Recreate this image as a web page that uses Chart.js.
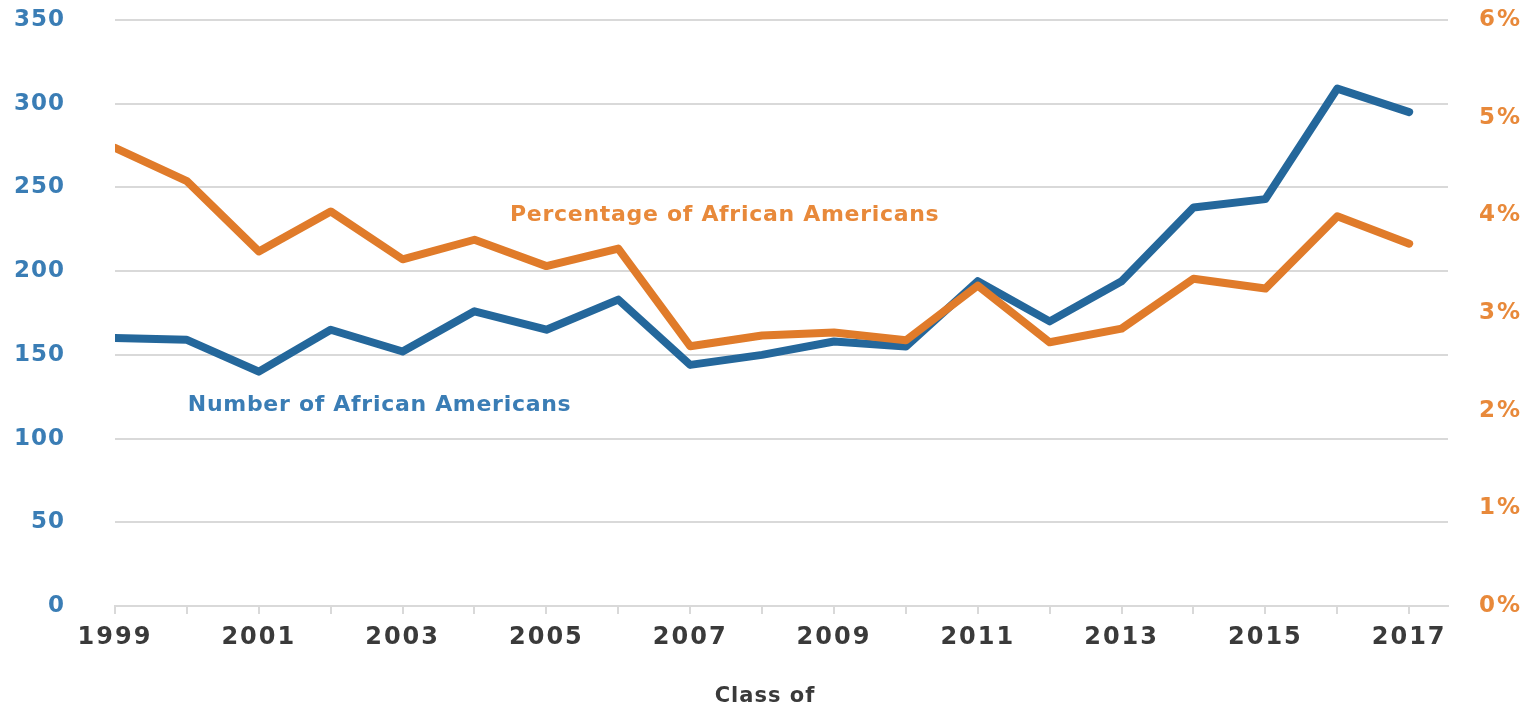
<!DOCTYPE html>
<html><head><meta charset="utf-8">
<script src="https://cdn.jsdelivr.net/npm/chart.js@4/dist/chart.umd.min.js"></script>
<style>html,body{margin:0;padding:0;background:#fff;}#wrap{width:1539px;height:710px;}</style>
</head><body><div id="wrap"><canvas id="c" width="1539" height="710"></canvas></div>
<script>
const years = [1999,2000,2001,2002,2003,2004,2005,2006,2007,2008,2009,2010,2011,2012,2013,2014,2015,2016,2017];
const numberAA = [160,159,140,165,152,176,165,183,144,150,158,155,194,170,194,238,243,309,295];
const percentAA = [4.69,4.35,3.63,4.04,3.55,3.75,3.48,3.66,2.66,2.77,2.80,2.72,3.28,2.70,2.84,3.35,3.25,3.99,3.71];
const leftTicks = [0,50,100,150,200,250,300,350];
const rightTicks = [0,1,2,3,4,5,6];
const labelNumber = 'Number of African Americans';
const labelPercent = 'Percentage of African Americans';
const xTitle = 'Class of';

const BLUE_LINE = '#24679b', BLUE_TXT = '#3a7db5';
const ORANGE_LINE = '#e07b2a', ORANGE_TXT = '#e8893a';
const TITLE_TXT = '#3a3a3a';
const FONT = 'DejaVu Sans';

// letter spacing per scale (wraps the label drawing of each axis)
const spacingPlugin = {
  id: 'spacing',
  beforeDraw(chart) {
    const spacing = { x: '2px', y: '1px', y1: '2px' };
    Object.keys(spacing).forEach(id => {
      const s = chart.scales[id];
      if (!s || s._spWrapped) return;
      const orig = s.drawLabels.bind(s);
      s.drawLabels = function(area) {
        const ctx = chart.ctx;
        ctx.save(); ctx.letterSpacing = spacing[id]; orig(area); ctx.restore();
      };
      s._spWrapped = true;
    });
  }
};

const labelsPlugin = {
  id: 'seriesLabels',
  afterDatasetsDraw(chart) {
    const {ctx, scales} = chart;
    ctx.save();
    ctx.textAlign = 'center';
    ctx.textBaseline = 'middle';
    ctx.letterSpacing = '0.7px';
    ctx.font = 'bold 22px "' + FONT + '"';
    ctx.fillStyle = ORANGE_TXT;
    ctx.fillText(labelPercent, scales.x.getPixelForValue(2007.48), scales.y.getPixelForValue(233.6));
    ctx.fillStyle = BLUE_TXT;
    ctx.fillText(labelNumber, scales.x.getPixelForValue(2002.68), scales.y.getPixelForValue(120));
    // axis title "Class of"
    ctx.letterSpacing = '1px';
    ctx.font = 'bold 21px "' + FONT + '"';
    ctx.fillStyle = TITLE_TXT;
    ctx.fillText(xTitle, scales.x.getPixelForValue(2008.04), scales.x.bottom - 13);
    ctx.restore();
  }
};

new Chart(document.getElementById('c'), {
  type: 'line',
  data: {
    datasets: [
      { label: labelPercent, data: years.map((y,i)=>({x:y,y:percentAA[i]})), yAxisID: 'y1',
        borderColor: ORANGE_LINE, borderWidth: 8, pointRadius: 0, tension: 0,
        borderCapStyle: 'round', borderJoinStyle: 'round' },
      { label: labelNumber, data: years.map((y,i)=>({x:y,y:numberAA[i]})), yAxisID: 'y',
        borderColor: BLUE_LINE, borderWidth: 8, pointRadius: 0, tension: 0,
        borderCapStyle: 'round', borderJoinStyle: 'round' }
    ]
  },
  options: {
    responsive: false, animation: false,
    layout: { padding: { top: 20, left: 0, right: 0, bottom: 0 } },
    plugins: { legend: { display: false }, tooltip: { enabled: false } },
    scales: {
      x: {
        type: 'linear', min: 1999, max: 2017.54,
        afterBuildTicks(s) { s.ticks = years.map(v => ({value: v})); },
        afterFit(s) { s.height = 104; s.paddingLeft = 0; s.paddingRight = 0; },
        grid: { drawOnChartArea: false, drawTicks: true, tickLength: 8, color: '#d9d9d9', lineWidth: 2 },
        border: { display: true, color: '#d9d9d9', width: 2 },
        ticks: { autoSkip: false, maxRotation: 0, padding: 9, color: TITLE_TXT,
          font: { family: FONT, size: 24, weight: 'bold' },
          callback: v => (v % 2 === 1 ? String(v) : '') },
        title: { display: false, text: xTitle }
      },
      y: {
        position: 'left', min: 0, max: 350,
        afterBuildTicks(s) { s.ticks = leftTicks.map(v => ({value: v})); },
        afterFit(s) { s.width = 115; s.paddingTop = 0; s.paddingBottom = 0; },
        grid: { drawTicks: false, color: '#d9d9d9', lineWidth: 2 },
        border: { display: false },
        ticks: { padding: 50, color: BLUE_TXT, font: { family: FONT, size: 23, weight: 'bold' } }
      },
      y1: {
        position: 'right', min: 0, max: 6,
        afterBuildTicks(s) { s.ticks = rightTicks.map(v => ({value: v})); },
        afterFit(s) { s.width = 91; s.paddingTop = 0; s.paddingBottom = 0; },
        grid: { display: false, drawTicks: false },
        border: { display: false },
        ticks: { padding: 31, color: ORANGE_TXT, font: { family: FONT, size: 23, weight: 'bold' },
          callback: v => v + '%' }
      }
    }
  },
  plugins: [spacingPlugin, labelsPlugin]
});
</script></body></html>
